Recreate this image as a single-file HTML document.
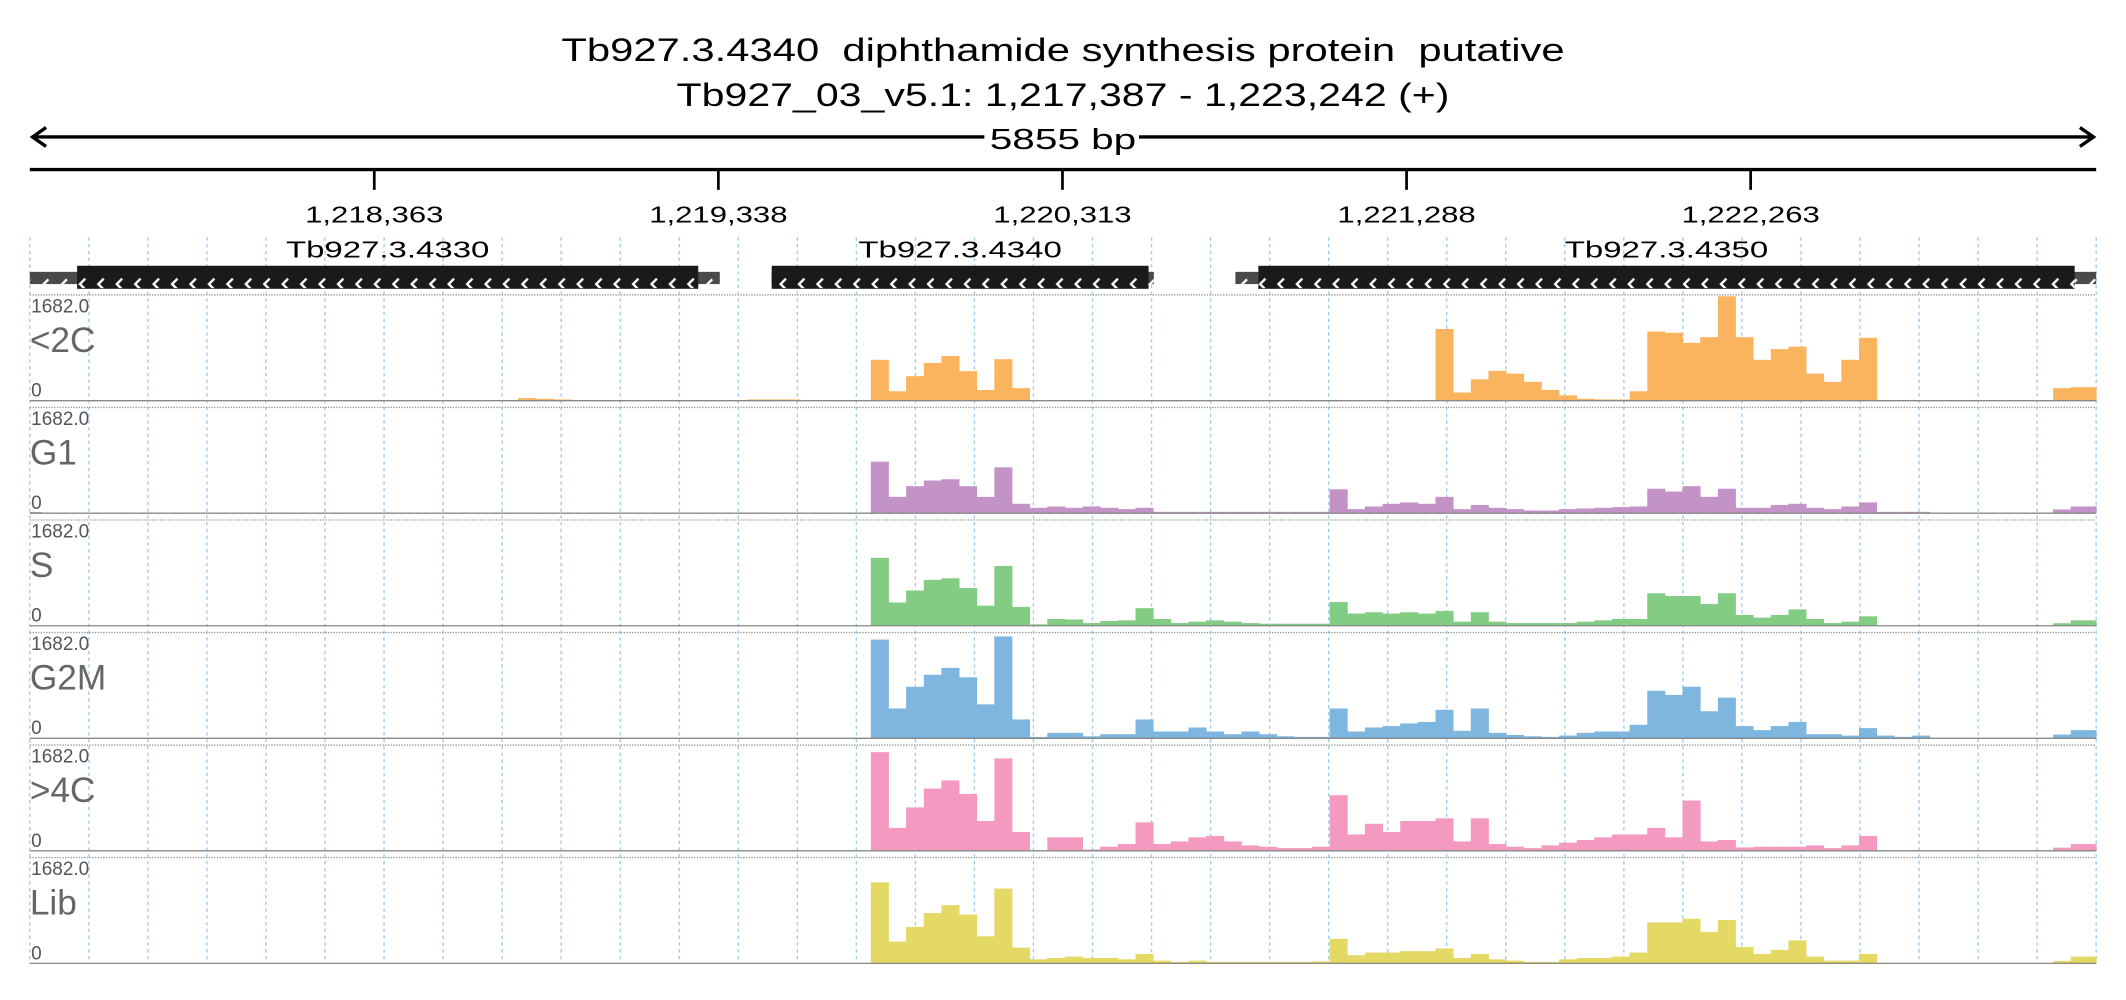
<!DOCTYPE html>
<html><head><meta charset="utf-8"><style>
html,body{margin:0;padding:0;background:#fff;}
svg{display:block;font-family:"Liberation Sans",sans-serif;}
</style></head><body>
<svg id="chart" width="2126" height="1000" viewBox="0 0 1568 737.5" xmlns="http://www.w3.org/2000/svg">
<defs>
<pattern id="chev" patternUnits="userSpaceOnUse" width="13.6" height="20" x="0" y="0">
<polyline points="8.5,6 4.5,10 8.5,14" fill="none" stroke="#fff" stroke-width="1.7"/>
</pattern>
</defs>
<text x="784" y="45" font-size="24" text-anchor="middle" textLength="740" lengthAdjust="spacingAndGlyphs" xml:space="preserve">Tb927.3.4340  diphthamide synthesis protein  putative</text>
<text x="784" y="78" font-size="24" text-anchor="middle" textLength="570" lengthAdjust="spacingAndGlyphs">Tb927_03_v5.1: 1,217,387 - 1,223,242 (+)</text>
<g stroke="#000" stroke-width="2.5" fill="none">
<line x1="24" y1="101" x2="1544" y2="101"/>
<polyline points="34,94 24,101 34,108"/>
<polyline points="1534,94 1544,101 1534,108"/>
</g>
<rect x="726" y="88" width="114" height="26" fill="#fff"/>
<text x="784" y="110" font-size="21" text-anchor="middle" textLength="108" lengthAdjust="spacingAndGlyphs">5855 bp</text>
<line x1="22" y1="125" x2="1546" y2="125" stroke="#000" stroke-width="2.5"/>
<g id="grid"></g>
<g id="axis"></g>
<g id="genes"></g>
<g id="tracks"></g>
</svg>
<script>
const NS="http://www.w3.org/2000/svg";
const startBp=1217387, endBp=1223242, binSize=50, binOrigin=1217370;
const tickValues=[1218363,1219338,1220313,1221288,1222263];
const tickLabels=["1,218,363","1,219,338","1,220,313","1,221,288","1,222,263"];
const geneNames=["Tb927.3.4330","Tb927.3.4340","Tb927.3.4350"];
const geneStart=[1217387,1219489,1220803];
const geneEnd=[1219342,1220572,1223242];
const cdsStart=[1217521,1219489,1220868];
const cdsEnd=[1219281,1220557,1223181];
const trackNames=["<2C","G1","S","G2M",">4C","Lib"];
const trackColors=["#fbb45e","#c392c6","#83cc83","#7fb6e0","#f49ac1","#e3d964"];
const yMax=1682;
function sparse(pairs){const a=new Array(119).fill(0);for(const [i,v] of pairs)a[i]=v;return a;}
const v2C=sparse([[28,40],[29,30],[30,20],[41,20],[42,20],[43,20],
[48,650],[49,150],[50,390],[51,600],[52,710],[53,470],[54,170],[55,660],[56,200],
[80,1140],[81,130],[82,340],[83,475],[84,430],[85,300],[86,170],[87,85],[88,30],[89,20],[90,20],
[91,150],[92,1100],[93,1080],[94,920],[95,1010],[96,1660],[97,1010],[98,650],[99,820],[100,860],
[101,430],[102,300],[103,650],[104,1000],[115,200],[116,215],[117,215],[118,215]]);
const vG1=sparse([[0,20],[48,820],[49,260],[50,430],[51,520],[52,540],[53,430],[54,260],[55,730],[56,150],
[57,86],[58,108],[59,86],[60,108],[61,86],[62,65],[63,86],[64,22],[65,22],[66,22],[67,22],[68,22],[69,22],[70,22],[71,22],[72,22],[73,22],
[74,380],[75,65],[76,108],[77,150],[78,172],[79,150],[80,260],[81,65],[82,130],[83,86],[84,65],[85,43],[86,43],[87,65],[88,75],[89,86],[90,97],
[91,108],[92,390],[93,345],[94,430],[95,260],[96,390],[97,86],[98,86],[99,130],[100,150],[101,86],[102,65],[103,108],[104,172],
[105,22],[106,22],[107,22],[115,60],[116,108],[117,108],[118,108]]);
const vS=sparse([[48,1080],[49,370],[50,560],[51,730],[52,755],[53,600],[54,320],[55,950],[56,300],
[57,22],[58,108],[59,100],[60,43],[61,75],[62,86],[63,280],[64,108],[65,43],[66,65],[67,86],[68,65],[69,43],[70,32],[71,32],[72,32],[73,32],
[74,377],[75,194],[76,215],[77,194],[78,215],[79,194],[80,237],[81,65],[82,215],[83,65],[84,43],[85,43],[86,43],[87,43],[88,65],[89,86],[90,108],
[91,108],[92,517],[93,474],[94,474],[95,345],[96,517],[97,172],[98,130],[99,172],[100,260],[101,108],[102,43],[103,65],[104,150],
[115,40],[116,86],[117,86],[118,86]]);
const vG2M=sparse([[48,1570],[49,475],[50,820],[51,1010],[52,1120],[53,970],[54,540],[55,1620],[56,300],
[57,22],[58,86],[59,86],[60,32],[61,65],[62,65],[63,300],[64,108],[65,108],[66,172],[67,108],[68,65],[69,108],[70,65],[71,32],[72,22],[73,22],
[74,474],[75,108],[76,172],[77,194],[78,237],[79,260],[80,453],[81,118],[82,474],[83,86],[84,54],[85,32],[86,22],[87,43],[88,86],[89,108],[90,108],
[91,215],[92,755],[93,690],[94,820],[95,430],[96,647],[97,194],[98,130],[99,194],[100,260],[101,65],[102,65],[103,43],[104,162],
[105,43],[106,22],[107,43],[115,60],[116,130],[117,130],[118,130]]);
const v4C=sparse([[48,1570],[49,365],[50,690],[51,990],[52,1120],[53,905],[54,475],[55,1470],[56,300],
[58,215],[59,215],[60,22],[61,65],[62,108],[63,453],[64,108],[65,150],[66,215],[67,237],[68,150],[69,86],[70,65],[71,43],[72,43],[73,65],
[74,885],[75,260],[76,430],[77,300],[78,475],[79,475],[80,517],[81,150],[82,517],[83,108],[84,65],[85,43],[86,86],[87,130],[88,172],[89,215],[90,260],
[91,260],[92,365],[93,215],[94,800],[95,150],[96,172],[97,54],[98,65],[99,65],[100,65],[101,86],[102,43],[103,86],[104,237],
[115,50],[116,108],[117,108],[118,108]]);
const vLib=sparse([[48,1290],[49,345],[50,580],[51,800],[52,925],[53,775],[54,430],[55,1190],[56,250],
[57,65],[58,86],[59,108],[60,86],[61,86],[62,65],[63,150],[64,43],[65,22],[66,43],[67,22],[68,22],[69,22],[70,22],[71,22],[72,22],[73,32],
[74,390],[75,130],[76,172],[77,172],[78,194],[79,194],[80,237],[81,86],[82,150],[83,65],[84,43],[85,22],[86,22],[87,65],[88,86],[89,86],[90,108],
[91,172],[92,650],[93,650],[94,710],[95,500],[96,690],[97,260],[98,150],[99,215],[100,365],[101,108],[102,43],[103,43],[104,150],
[115,40],[116,108],[117,108],[118,108]]);
const seriesValues=[v2C,vG1,vS,vG2M,v4C,vLib];

const X0=22,X1=1546;
function xScale(bp){return X0+(bp-startBp)/(endBp-startBp)*(X1-X0);}
const trackTop0=217.5, trackPitch=83, trackH=78;
function yScale(k,v){const base=trackTop0+k*trackPitch+trackH;return base-Math.min(v,yMax)/yMax*trackH;}
function mk(tag,attrs,parent){const e=document.createElementNS(NS,tag);for(const k in attrs)e.setAttribute(k,attrs[k]);parent.appendChild(e);return e;}

const grid=document.getElementById('grid');
for(let i=0;i<=35;i++){
  const gx=X0+i*(X1-X0)/35;
  const l=mk('line',{x1:gx,y1:175,x2:gx,y2:711,stroke:'#9ecbf0','stroke-width':1,'stroke-dasharray':'2.5,2.5'},grid);
  
  
}
const axis=document.getElementById('axis');
tickValues.forEach((t,i)=>{
  const tx=xScale(t);
  const tl=mk('line',{x1:tx,y1:125,x2:tx,y2:140,stroke:'#000','stroke-width':2},axis);
  
  
  const tt=mk('text',{x:tx,y:164,'font-size':17,'text-anchor':'middle',textLength:102,lengthAdjust:'spacingAndGlyphs'},axis);
  tt.textContent=tickLabels[i];
  
  
});
const genes=document.getElementById('genes');
geneNames.forEach((g,i)=>{
  const u=mk('rect',{x:xScale(geneStart[i]),y:200.5,width:xScale(geneEnd[i])-xScale(geneStart[i]),height:9,fill:'#4a4a4a'},genes);
  
  
  mk('rect',{x:xScale(geneStart[i]),y:200.5,width:xScale(geneEnd[i])-xScale(geneStart[i]),height:9,fill:'url(#chev)'},genes);
  const c=mk('rect',{x:xScale(cdsStart[i]),y:196,width:xScale(cdsEnd[i])-xScale(cdsStart[i]),height:17,fill:'#1a1a1a'},genes);
  
  
  mk('rect',{x:xScale(cdsStart[i]),y:196,width:xScale(cdsEnd[i])-xScale(cdsStart[i]),height:17,fill:'url(#chev)',transform:'translate(0,-0.5)'},genes);
  const lt=mk('text',{x:(xScale(cdsStart[i])+xScale(cdsEnd[i]))/2,y:190,'font-size':17,'text-anchor':'middle',textLength:150,lengthAdjust:'spacingAndGlyphs'},genes);
  lt.textContent=g;
  
  
});
const tracks=document.getElementById('tracks');
const bw=binSize/(endBp-startBp)*(X1-X0);
trackNames.forEach((name,k)=>{
  const g=mk('g',{},tracks);
  
  
  const top=trackTop0+k*trackPitch, base=top+trackH;
  mk('line',{x1:X0,y1:top,x2:X1,y2:top,stroke:'#999','stroke-width':1,'stroke-dasharray':'1,1'},g);
  seriesValues[k].forEach((v,i)=>{
    if(v<=0)return;
    let bx=xScale(binOrigin+i*binSize);
    let w=bw;
    if(bx<X0){w-=X0-bx;bx=X0;}
    w=Math.min(w,X1-bx);
    if(w<=0)return;
    const y=yScale(k,v);
    const r=mk('rect',{x:bx,y:y,width:w+0.3,height:base-y,fill:trackColors[k]},g);
    
    
  });
  mk('line',{x1:X0,y1:base,x2:X1,y2:base,stroke:'#888','stroke-width':1},g);
  const mx=mk('text',{x:23,y:top+13,'font-size':14,fill:'#555'},g);
  mx.textContent='1682.0';
  
  
  const nm=mk('text',{x:22,y:top+42,'font-size':26,fill:'#666'},g);
  nm.textContent=name;
  
  
  const z=mk('text',{x:23,y:base-3,'font-size':14,fill:'#555'},g);
  z.textContent='0';
  
  
});
</script>
</body></html>
